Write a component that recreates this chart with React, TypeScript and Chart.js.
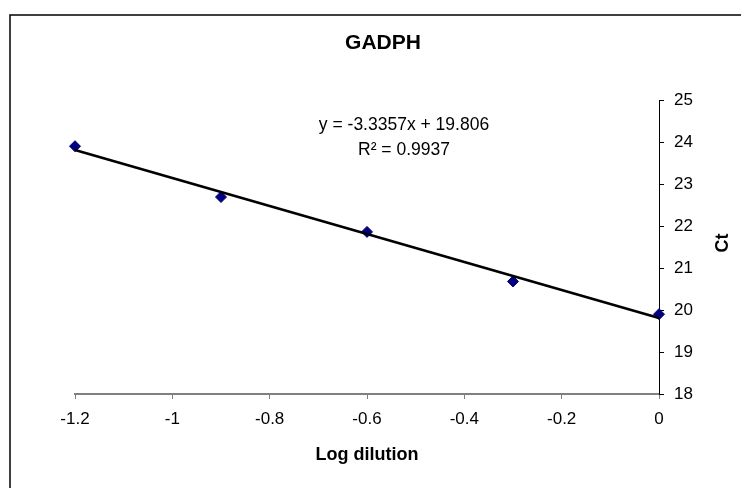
import { useEffect, useRef } from "react";
import { Chart, registerables } from "chart.js";

Chart.register(...registerables);

// ---- data ----
const logDilution = [-1.2, -0.9, -0.6, -0.3, 0];
const ctValues = [23.9, 22.69, 21.86, 20.68, 19.9];
const trendX = [-1.2, 0];
const trendY = [23.81, 19.81];
const xTickValues = [-1.2, -1, -0.8, -0.6, -0.4, -0.2, 0];
const yTickValues = [18, 19, 20, 21, 22, 23, 24, 25];
const chartTitle = "GADPH";
const xAxisTitle = "Log dilution";
const yAxisTitle = "Ct";
const equationText = "y = -3.3357x + 19.806";
const r2Text = "R\u00B2 = 0.9937";

const FONT = '"Liberation Sans", Arial, Helvetica, sans-serif';

const decorPlugin = {
  id: "decor",
  afterDraw(chart: any) {
    const { ctx, chartArea } = chart;
    const cx = (chartArea.left + chartArea.right) / 2;
    ctx.save();
    // outer chart border (extends past the right/bottom edges)
    ctx.strokeStyle = "#000";
    ctx.lineWidth = 1.5;
    ctx.strokeRect(10, 15, 900, 700);

    ctx.fillStyle = "#000";
    ctx.textAlign = "center";
    ctx.textBaseline = "middle";

    ctx.font = `bold 21px ${FONT}`;
    ctx.fillText(chartTitle, cx + 16, 43);

    ctx.font = `17.5px ${FONT}`;
    ctx.fillText(equationText, cx + 37, chartArea.top + 25);
    ctx.fillText(r2Text, cx + 37, chartArea.top + 50);

    ctx.font = `bold 18px ${FONT}`;
    ctx.fillText(xAxisTitle, cx, 455);

    ctx.save();
    ctx.translate(chartArea.right + 64, (chartArea.top + chartArea.bottom) / 2 - 4);
    ctx.rotate(-Math.PI / 2);
    ctx.font = `bold 18px ${FONT}`;
    ctx.fillText(yAxisTitle, 0, 0);
    ctx.restore();

    ctx.restore();
  },
};

export default function App() {
  const ref = useRef<HTMLCanvasElement | null>(null);

  useEffect(() => {
    if (!ref.current) return;
    const points = logDilution.map((x, i) => ({ x, y: ctValues[i] }));
    const trend = trendX.map((x, i) => ({ x, y: trendY[i] }));

    const chart = new Chart(ref.current, {
      type: "scatter",
      data: {
        datasets: [
          {
            type: "line",
            label: "Linear",
            data: trend,
            borderColor: "#000",
            borderWidth: 2.6,
            pointRadius: 0,
            fill: false,
            clip: false as any,
          },
          {
            label: "Ct",
            data: points,
            pointStyle: "rectRot",
            pointRadius: 5.5,
            backgroundColor: "#000080",
            borderColor: "#000080",
            borderWidth: 1,
            clip: false as any,
          },
        ],
      },
      options: {
        responsive: false,
        animation: false,
        layout: { padding: { left: 75, top: 100, right: 0, bottom: 0 } },
        plugins: {
          legend: { display: false },
          tooltip: { enabled: false },
          title: { display: false },
        },
        scales: {
          x: {
            type: "linear",
            position: "bottom",
            min: -1.2,
            max: 0,
            afterBuildTicks: (s: any) => {
              s.ticks = xTickValues.map((v) => ({ value: v }));
            },
            afterFit: (s: any) => {
              s.height = 94;
            },
            grid: {
              display: true,
              drawOnChartArea: false,
              drawTicks: true,
              tickLength: 5,
              color: "#808080",
              lineWidth: 1,
            },
            border: { display: true, color: "#808080", width: 2 },
            ticks: {
              color: "#000",
              font: { family: FONT, size: 17 },
              padding: 10,
              maxRotation: 0,
              autoSkip: false,
              callback: (v: any) => String(Number(Number(v).toFixed(1))),
            },
          },
          y: {
            type: "linear",
            position: "right",
            min: 18,
            max: 25,
            afterBuildTicks: (s: any) => {
              s.ticks = yTickValues.map((v) => ({ value: v }));
            },
            afterFit: (s: any) => {
              s.width = 82;
            },
            grid: {
              display: true,
              drawOnChartArea: false,
              drawTicks: true,
              tickLength: 5,
              color: "#000",
              lineWidth: 1,
            },
            border: { display: true, color: "#000", width: 1 },
            ticks: {
              color: "#000",
              font: { family: FONT, size: 17 },
              padding: 10,
              autoSkip: false,
              callback: (v: any) => String(v),
            },
          },
        },
      },
      plugins: [decorPlugin],
    });
    return () => chart.destroy();
  }, []);

  return (
    <div style={{ position: "absolute", left: 0, top: 0, width: 741, height: 488, background: "#fff" }}>
      <canvas ref={ref} width={741} height={488} style={{ display: "block" }} />
    </div>
  );
}
